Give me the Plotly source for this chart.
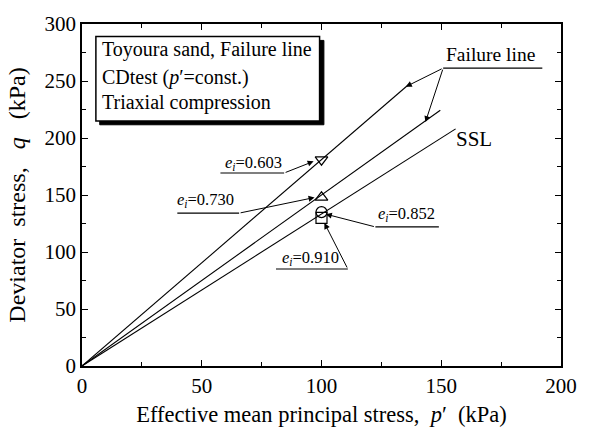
import plotly.graph_objects as go

# ---------------- data ----------------
upper_p = [0, 137.0]
upper_q = [0, 248.0]
middle_p = [0, 149.6]
middle_q = [0, 224.4]
ssl_p = [0, 156.0]
ssl_q = [0, 208.0]

pt_p = [100, 100, 100, 100]
pt_q = [181, 148, 135, 130]
pt_symbols = ["triangle-down-open", "triangle-up-open", "circle-open", "square-open"]

e_labels = ["0.603", "0.730", "0.852", "0.910"]
e_text_p = [71.5, 51.5, 135.5, 95.5]
e_text_q = [178.5, 146.0, 133.0, 95.0]
e_line_x0 = [57.8, 39.8, 122.5, 81.0]
e_line_x1 = [84.4, 65.6, 149.0, 111.0]
e_line_q = [169.3, 134.1, 122.0, 85.1]
e_tail_p = [84.4, 65.6, 122.5, 111.0]
e_tip_p = [96.7, 97.1, 101.8, 101.2]
e_tip_q = [179.5, 147.8, 133.2, 125.5]

fail_label_p, fail_label_q = 170.5, 273.0
fail_line_x0, fail_line_x1, fail_line_q = 150.8, 192.2, 261.3
fail_tip_p = [135.2, 143.4]
fail_tip_q = [245.0, 214.0]

box_lines = ["Toyoura sand, Failure line",
             "CDtest (<i>p</i>\u2032=const.)",
             "Triaxial compression"]
box_line_q = [277.5, 253.0, 231.5]

FONT = "Liberation Serif"
NB = "\u00a0"

fig = go.Figure()
for xs, ys in [(upper_p, upper_q), (middle_p, middle_q), (ssl_p, ssl_q)]:
    fig.add_trace(go.Scatter(x=xs, y=ys, mode="lines",
                             line=dict(color="black", width=1.1),
                             showlegend=False, hoverinfo="skip"))
for px_, qy_, sym in zip(pt_p, pt_q, pt_symbols):
    fig.add_trace(go.Scatter(x=[px_], y=[qy_], mode="markers",
                             marker=dict(symbol=sym, size=11, color="black",
                                         line=dict(width=1.2, color="black")),
                             showlegend=False, hoverinfo="skip"))

shapes = []
annotations = []

# legend-like box with shadow
box_x0, box_x1, box_y0, box_y1 = 5.8, 99.2, 215.0, 289.0
shapes.append(dict(type="rect", xref="x", yref="y",
                   x0=box_x0 + 1.6, x1=box_x1 + 1.8, y0=box_y0 - 3.4, y1=box_y1 - 3.4,
                   fillcolor="black", line=dict(color="black", width=1)))
shapes.append(dict(type="rect", xref="x", yref="y",
                   x0=box_x0, x1=box_x1, y0=box_y0, y1=box_y1,
                   fillcolor="white", line=dict(color="black", width=1.5)))
for t, yq in zip(box_lines, box_line_q):
    annotations.append(dict(x=7.6, y=yq, xref="x", yref="y", text=t,
                            showarrow=False, xanchor="left", yanchor="middle",
                            font=dict(family=FONT, size=20, color="black")))

# e_i labels
for lab, tp, tq, lx0, lx1, lq, tailp, tipp, tipq in zip(
        e_labels, e_text_p, e_text_q, e_line_x0, e_line_x1, e_line_q,
        e_tail_p, e_tip_p, e_tip_q):
    annotations.append(dict(x=tp, y=tq, xref="x", yref="y",
                            text="<i>e</i><sub><i>i</i></sub>=" + lab,
                            showarrow=False, xanchor="center", yanchor="middle",
                            font=dict(family=FONT, size=16.5, color="black")))
    shapes.append(dict(type="line", xref="x", yref="y", x0=lx0, x1=lx1, y0=lq, y1=lq,
                       line=dict(color="black", width=1.2)))
    annotations.append(dict(x=tipp, y=tipq, ax=tailp, ay=lq, xref="x", yref="y",
                            axref="x", ayref="y", text="", showarrow=True,
                            arrowhead=2, arrowsize=1.2, arrowwidth=1.0,
                            arrowcolor="black", standoff=0, startstandoff=0))

# Failure line label
annotations.append(dict(x=fail_label_p, y=fail_label_q, xref="x", yref="y",
                        text="Failure line", showarrow=False,
                        xanchor="center", yanchor="middle",
                        font=dict(family=FONT, size=19.5, color="black")))
shapes.append(dict(type="line", xref="x", yref="y", x0=fail_line_x0, x1=fail_line_x1,
                   y0=fail_line_q, y1=fail_line_q, line=dict(color="black", width=1.2)))
for tp, tq in zip(fail_tip_p, fail_tip_q):
    annotations.append(dict(x=tp, y=tq, ax=fail_line_x0, ay=fail_line_q,
                            xref="x", yref="y", axref="x", ayref="y", text="",
                            showarrow=True, arrowhead=2, arrowsize=1.2, arrowwidth=1.0,
                            arrowcolor="black", standoff=0, startstandoff=0))

annotations.append(dict(x=163.5, y=199.0, xref="x", yref="y", text="SSL",
                        showarrow=False, xanchor="center", yanchor="middle",
                        font=dict(family=FONT, size=21, color="black")))

axis_common = dict(showgrid=False, zeroline=False, showline=True, linecolor="black",
                   linewidth=1.5, mirror="ticks", ticks="inside", ticklen=6,
                   tickwidth=1.2, tickcolor="black",
                   tickfont=dict(family=FONT, size=21, color="black"),
                   minor=dict(ticks="inside", ticklen=4, tickwidth=1.2, tickcolor="black",
                              dtick=25, showgrid=False))

fig.update_xaxes(range=[0, 200], dtick=50, **axis_common,
                 title=dict(text="Effective mean principal stress," + NB + " <i>p</i>\u2032" + NB + " (kPa)",
                            font=dict(family=FONT, size=22.5, color="black"), standoff=9))
fig.update_yaxes(range=[0, 300], dtick=50, **axis_common,
                 title=dict(text="Deviator" + NB + " stress," + NB + NB + " <i>q</i>" + NB + NB + " (kPa)" + NB * 3,
                            font=dict(family=FONT, size=24, color="black"), standoff=12))

fig.update_layout(width=589, height=435, margin=dict(l=82, r=19, t=23, b=63),
                  paper_bgcolor="white", plot_bgcolor="white",
                  shapes=shapes, annotations=annotations, showlegend=False)

fig.write_html("out.html")
